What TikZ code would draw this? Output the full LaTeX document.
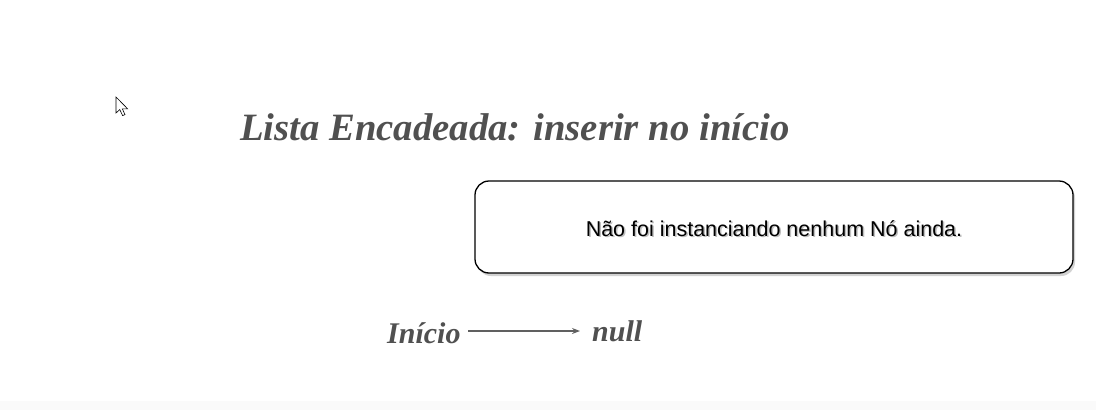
\documentclass[tikz,border=0pt]{standalone}
\usepackage{fontspec}
\setmainfont{Liberation Serif}
\newfontfamily\boxfont{Liberation Sans}
\usetikzlibrary{arrows.meta,shadows}
\definecolor{titlegray}{HTML}{505050}
\definecolor{arrowgray}{HTML}{606060}
\tikzset{
  titletext/.style={font=\fontsize{38.7}{42}\selectfont\bfseries\itshape, text=titlegray, inner sep=0pt},
  labeltext/.style={font=\fontsize{30}{34}\selectfont\bfseries\itshape, text=titlegray, inner sep=0pt},
  msgbox/.style={draw=black, line width=1.3pt, rounded corners=14pt, fill=white,
    drop shadow={shadow xshift=2pt, shadow yshift=-3pt, opacity=0.35},
    minimum width=598pt, minimum height=92pt},
  msgtext/.style={font=\boxfont\fontsize{21.5}{24}\selectfont, text=black, inner sep=0pt},
  ptr/.style={-{Stealth[length=8pt,width=6pt]}, draw=arrowgray, line width=1.2pt}
}
\begin{document}
\begin{tikzpicture}[x=1pt,y=-1pt]
\useasboundingbox (0,0) rectangle (1096,410);
\fill[white] (0,0) rectangle (1096,410);
\fill[black!2] (0,401) rectangle (1096,410);
% cursor
\draw[fill=white, line width=0.6pt, line join=miter]
  (116,97) -- (116,113) -- (119.8,109.6) -- (122.6,115.6) -- (125,114.6) -- (122.3,108.8) -- (127.6,108.8) -- cycle;
% title
\node[titletext, anchor=base west] (title) at (240,140) {Lista Encadeada: inserir no início};
% box
\node[msgbox] (box) at (774,227) {};
\node[msgtext, text=black!25, anchor=base] (msgshadow) at (775.5,237.5) {Não foi instanciando nenhum Nó ainda.};
\node[msgtext, anchor=base] (msg) at (774,236) {Não foi instanciando nenhum Nó ainda.};
% pointer
\node[labeltext, anchor=base west] (inicio) at (387,343) {Início};
\node[labeltext, anchor=base west] (null) at (592,341) {null};
\coordinate (a) at (468,331);
\coordinate (b) at (580,331);
\draw[ptr] (a) -- (b);
\end{tikzpicture}
\end{document}
